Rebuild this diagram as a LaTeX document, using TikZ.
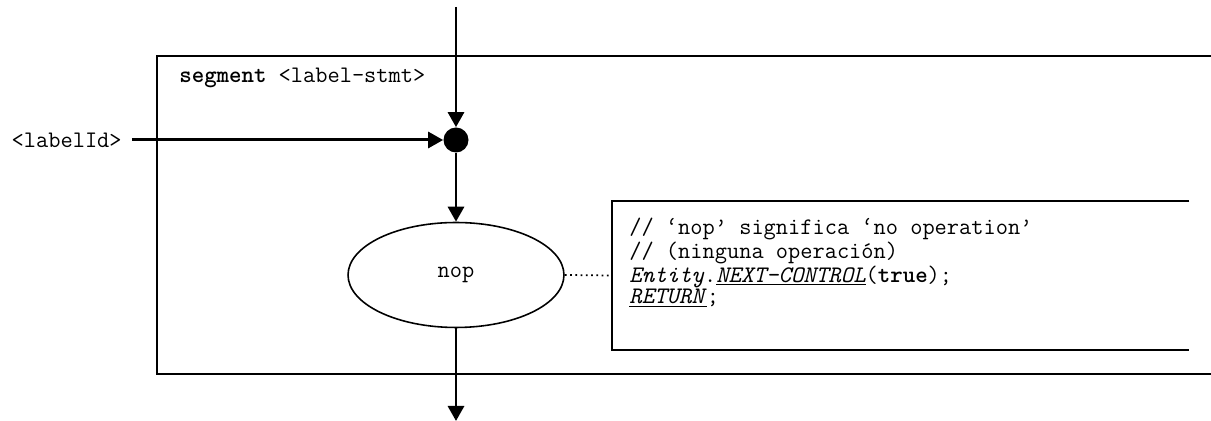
\documentclass[tikz,border=0pt]{standalone}
\usepackage{fontspec}
\usetikzlibrary{shapes.geometric, arrows.meta, positioning, calc}

\begin{document}
\begin{tikzpicture}[
    x=0.02cm, y=-0.02cm,
    flow/.style={-{Triangle[length=0.3cm, width=0.32cm]}, line width=1.7pt},
    frame/.style={draw=black, line width=1pt},
    junction/.style={circle, fill=black, inner sep=0pt, minimum size=0.5cm},
    action/.style={ellipse, draw=black, line width=0.9pt, minimum width=4.32cm, minimum height=2.1cm, font=\ttfamily\fontsize{13.5}{15}\selectfont},
    tag/.style={font=\ttfamily\fontsize{13.5}{15}\selectfont, inner sep=0pt},
    notebox/.style={rectangle, minimum width=11.54cm, minimum height=2.98cm, inner sep=0pt},
    notetext/.style={align=left, inner sep=0pt, font=\ttfamily\fontsize{13.5}{10.6}\selectfont}
]
\useasboundingbox (0,0) rectangle (1211,421);

% segment frame, open to the right
\draw[frame] (1215,56) -- (157,56) -- (157,374) -- (1215,374);
\node[tag, anchor=west] (title) at (179,78) {\textbf{segment} <label-stmt>};

% entry and junction
\coordinate (entry) at (456,7);
\node[junction] (dot) at (456,140) {};
\node[tag, anchor=east] (lbl) at (122,140) {<labelId>};

\draw[flow] (entry) -- (dot.north);
\draw[flow] ([xshift=0.2cm]lbl.east) -- (dot.west);

% nop
\node[action] (nop) at (456,275) {nop};
\node[notebox] (note) at (900.5,275.5) {};
\draw[frame, line width=1.2pt] (note.north east) -- (note.north west) -- (note.south west) -- (note.south east);
\node[notetext, anchor=north west] (code) at (629,218) {%
// ‘nop’ significa ‘no operation’\\
// (ninguna operación)\\
\textit{Entity}.\underline{\textit{NEXT-CONTROL}}(\textbf{true});\\
\underline{\textit{RETURN}};};

\coordinate (exit) at (456,421);
\draw[flow] (dot.south) -- (nop.north);
\draw[dotted, line width=1pt] (nop.east) -- (note.west);
\draw[flow] (nop.south) -- (exit);

\end{tikzpicture}
\end{document}
